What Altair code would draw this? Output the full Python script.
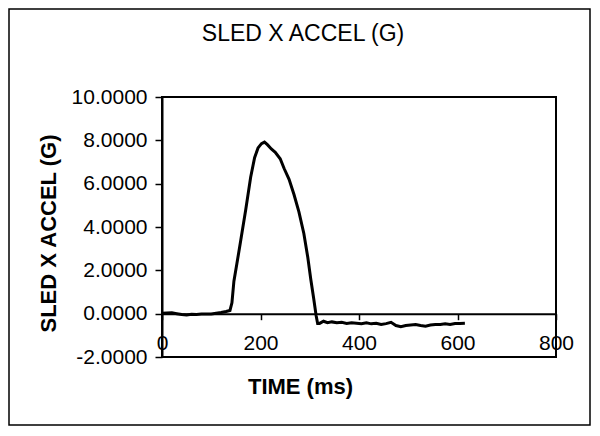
import altair as alt
import pandas as pd

time_ms = [0, 10, 20, 30, 40, 50, 60, 70, 80, 90, 100, 110, 120, 130, 138, 142, 146, 152,
           160, 170, 180, 188, 195, 202, 208, 214, 222, 230, 240, 248, 258, 268, 278, 288,
           296, 302, 308, 313, 316, 320, 328, 336, 345, 355, 365, 375, 385, 395, 405, 415,
           425, 435, 445, 455, 465, 475, 485, 495, 505, 515, 525, 535, 545, 555, 565, 575,
           585, 595, 605, 615]
accel_g = [0.02, 0.03, 0.04, 0.0, -0.04, -0.06, -0.03, -0.04, -0.02, -0.01, -0.02, 0.02, 0.05, 0.1,
           0.15, 0.5, 1.5, 2.3, 3.4, 4.8, 6.3, 7.2, 7.65, 7.85, 7.92, 7.8, 7.6, 7.45, 7.15, 6.7,
           6.2, 5.5, 4.7, 3.7, 2.6, 1.6, 0.7, -0.1, -0.45, -0.45, -0.35, -0.42, -0.38, -0.42,
           -0.4, -0.45, -0.42, -0.44, -0.46, -0.42, -0.47, -0.44, -0.5, -0.46, -0.4, -0.55,
           -0.6, -0.55, -0.52, -0.5, -0.55, -0.58, -0.52, -0.5, -0.5, -0.47, -0.5, -0.45,
           -0.45, -0.44]

x_ticks = [0, 200, 400, 600, 800]
y_ticks = [-2, 0, 2, 4, 6, 8, 10]
chart_title = "SLED X ACCEL (G)"
x_title = "TIME (ms)"
y_title = "SLED X ACCEL (G)"

FONT = "Liberation Sans"
df = pd.DataFrame({"t": time_ms, "g": accel_g})

y_label_expr = ("datum.value < 0 ? '-' + format(-datum.value, '.4f') "
                ": format(datum.value, '.4f')")

line = alt.Chart(df).mark_line(color="black", strokeWidth=3).encode(
    x=alt.X("t:Q",
            scale=alt.Scale(domain=[0, 800], nice=False, zero=False),
            axis=alt.Axis(values=x_ticks, format="d", offset=-43.3, grid=False,
                          domainColor="black", domainWidth=2, tickColor="black",
                          tickSize=6, tickWidth=1.5, labelFlush=False,
                          labelFont=FONT, labelFontSize=21, labelColor="black",
                          labelPadding=13, title=x_title, titleFont=FONT,
                          titleFontSize=22, titleFontWeight="bold", titleColor="black",
                          titleX=138, titleY=80, titleAlign="center",
                          titleBaseline="alphabetic")),
    y=alt.Y("g:Q",
            scale=alt.Scale(domain=[-2, 10], nice=False, zero=False),
            axis=alt.Axis(values=y_ticks, labelExpr=y_label_expr, grid=False,
                          domainColor="black", domainWidth=2, tickColor="black",
                          tickSize=7, tickWidth=1.5, labelFont=FONT, labelFontSize=21,
                          labelColor="black", labelPadding=8, title=y_title,
                          titleFont=FONT, titleFontSize=22, titleFontWeight="bold",
                          titleColor="black", titleAngle=270, titleX=-107, titleY=136,
                          titleAlign="center", titleBaseline="alphabetic")),
)

title_text = alt.Chart(alt.Data(values=[{"txt": chart_title}])).mark_text(
    font=FONT, fontSize=23, color="black", align="center", baseline="alphabetic"
).encode(text="txt:N", x=alt.value(141), y=alt.value(-56))

frame = alt.Chart(alt.Data(values=[{"a": 1}])).mark_rect(
    fill=None, stroke="black", strokeWidth=1.5, clip=False
).encode(x=alt.value(-153), x2=alt.value(428), y=alt.value(-88), y2=alt.value(328))

chart = alt.layer(frame, line, title_text).properties(
    width=394, height=260,
    autosize=alt.AutoSizeParams(type="none"),
    padding={"left": 154, "top": 89, "right": 36, "bottom": 69},
).configure(background="white").configure_view(stroke="black", strokeWidth=2)

chart.save("out.html", embed_options={"renderer": "svg", "actions": False})
